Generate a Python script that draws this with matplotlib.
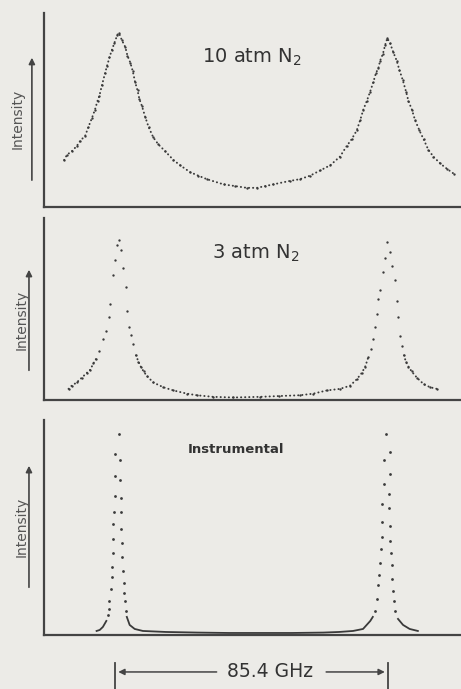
import numpy as np
import matplotlib
matplotlib.use("Agg")
import matplotlib.pyplot as plt

# free spectral range between the two orders (GHz)
fsr_ghz = 85.4

# 10 atm N2 : frequency offset (GHz), relative intensity
freq_10atm = [-17.3, -16.4, -14.9, -13.3, -12.2, -10.6, -9.6, -8.5, -7.5, -6.7, -6.1, -5.3,
              -4.3, -3.7, -2.9, -2.2, -1.4, -0.4, 0.1, 1.0, 2.1, 2.8, 3.7, 4.5, 5.2, 6.0,
              6.6, 7.4, 8.4, 9.5, 11.0, 12.6, 14.8, 17.4, 19.5, 22.7, 25.3, 28.0, 33.3,
              37.0, 40.7, 43.9, 46.5, 49.1, 54.4, 57.6, 60.8, 64.0, 67.2, 70.3, 72.4, 74.0,
              75.6, 76.7, 77.7, 78.8, 79.8, 80.9, 81.7, 82.5, 83.0, 83.9, 84.6, 85.3, 86.2,
              87.2, 88.3, 89.1, 90.2, 91.3, 92.0, 93.1, 94.1, 95.5, 96.8, 98.3, 99.9,
              102.1, 104.2, 106.5]
int_10atm = [0.27, 0.30, 0.32, 0.35, 0.38, 0.41, 0.46, 0.51, 0.56, 0.61, 0.64, 0.70,
             0.77, 0.81, 0.86, 0.90, 0.94, 0.99, 1.00, 0.96, 0.92, 0.87, 0.83, 0.78, 0.72, 0.67,
             0.62, 0.58, 0.52, 0.46, 0.40, 0.36, 0.32, 0.27, 0.24, 0.20, 0.18, 0.16, 0.13,
             0.12, 0.11, 0.11, 0.12, 0.13, 0.15, 0.16, 0.18, 0.21, 0.24, 0.29, 0.35, 0.39,
             0.44, 0.50, 0.56, 0.61, 0.66, 0.72, 0.77, 0.80, 0.84, 0.88, 0.93, 0.97, 0.94,
             0.89, 0.84, 0.79, 0.73, 0.66, 0.61, 0.56, 0.50, 0.44, 0.39, 0.33, 0.29,
             0.25, 0.22, 0.19]

# 3 atm N2
freq_3atm = [-15.9, -14.9, -13.3, -11.7, -10.1, -9.0, -8.0, -7.1, -6.1, -5.1, -4.0, -3.2,
             -2.7, -1.8, -1.1, -0.6, 0.0, 0.7, 1.5, 2.3, 2.8, 3.4, 3.9, 4.7, 5.5, 6.3, 7.0,
             7.9, 9.0, 11.0, 14.2, 17.4, 21.7, 24.8, 30.0, 36.3, 44.9, 51.0, 57.6, 61.8,
             66.1, 70.3, 73.5, 75.6, 77.2, 78.3, 79.3, 80.1, 80.7, 81.4, 82.0, 82.5, 83.0,
             83.9, 84.6, 85.3, 86.2, 86.7, 87.6, 88.3, 88.6, 89.4, 89.9, 90.6, 91.2, 92.0,
             93.0, 94.7, 96.8, 98.9, 101.0]
int_3atm = [0.07, 0.09, 0.11, 0.14, 0.17, 0.19, 0.23, 0.26, 0.31, 0.38, 0.43, 0.52,
            0.60, 0.78, 0.88, 0.97, 1.00, 0.94, 0.83, 0.71, 0.56, 0.46, 0.41, 0.35, 0.28, 0.24, 0.21,
            0.18, 0.15, 0.11, 0.08, 0.06, 0.04, 0.03, 0.02, 0.016, 0.02, 0.025, 0.03, 0.04,
            0.06, 0.07, 0.09, 0.13, 0.17, 0.21, 0.27, 0.32, 0.38, 0.46, 0.54, 0.63, 0.69,
            0.80, 0.89, 0.99, 0.93, 0.84, 0.75, 0.62, 0.52, 0.40, 0.34, 0.28, 0.24, 0.21,
            0.18, 0.14, 0.10, 0.08, 0.07]

# instrumental profile
freq_inst = [-7.0, -6.0, -5.0, -3.9, -3.4, -3.1, -2.9, -2.5, -2.1, -2.1, -1.8, -1.8, -1.8,
             -1.6, -1.3, -1.0, -1.0, 0.1, 0.5, 0.5, 0.9, 0.9, 0.9, 1.0, 1.2, 1.4, 1.6, 1.7,
             1.9, 2.2, 2.6, 3.5, 5.1, 7.7, 15.0, 25.0, 35.0, 45.0, 55.0, 65.0, 70.0,
             74.4, 77.6, 79.9, 80.7, 81.5, 82.0, 82.4, 82.6, 83.1, 83.2, 83.6, 83.7, 83.7,
             84.4, 84.2, 84.8, 86.0, 86.0, 85.8, 85.8, 86.0, 86.3, 86.6, 86.9, 86.9, 87.1,
             87.3, 87.6, 88.7, 90.3, 92.4, 95.0]
int_inst = [0.02, 0.025, 0.04, 0.07, 0.10, 0.13, 0.17, 0.23, 0.29, 0.34, 0.41, 0.48, 0.55,
            0.61, 0.69, 0.79, 0.90, 1.00, 0.87, 0.77, 0.68, 0.61, 0.53, 0.46, 0.39, 0.32, 0.26, 0.21,
            0.17, 0.12, 0.09, 0.05, 0.03, 0.02, 0.015, 0.012, 0.01, 0.01, 0.01, 0.012, 0.015,
            0.02, 0.03, 0.07, 0.09, 0.12, 0.18, 0.25, 0.30, 0.36, 0.43, 0.49, 0.56, 0.65,
            0.75, 0.87, 1.00, 0.91, 0.80, 0.70, 0.63, 0.54, 0.47, 0.41, 0.35, 0.28, 0.22,
            0.17, 0.12, 0.08, 0.05, 0.03, 0.02]

paper = '#ecebe7'
ink = '#3a3a3a'

fig = plt.figure(figsize=(4.61, 6.89), dpi=100, facecolor=paper)

panels = [
    # rect, ylim top, label, label pos, arrow (y0, y1), arrow x, text x
    ([0.0954, 0.6996, 0.9046, 0.2815], 1.115, '10 atm N$_2$', (0.499, 0.773), (0.124, 0.784), -0.029, -0.062),
    ([0.0954, 0.4194, 0.9046, 0.2642], 1.14, '3 atm N$_2$', (0.508, 0.808), (0.148, 0.731), -0.036, -0.053),
    ([0.0954, 0.0784, 0.9046, 0.3120], 1.07, 'Instrumental', (0.46, 0.865), (0.209, 0.80), -0.036, -0.053),
]
data = [(freq_10atm, int_10atm), (freq_3atm, int_3atm), (freq_inst, int_inst)]
# above this level the samples show as separate dots rather than a dense trace
dense_below = [2.0, 0.3, 0.1]

axes = []
for i, (rect, ytop, title, tpos, arr, ax_x, tx_x) in enumerate(panels):
    ax = fig.add_axes(rect)
    ax.set_facecolor(paper)
    f, y = np.array(data[i][0]), np.array(data[i][1])
    lim = dense_below[i]
    if i < 2:
        ax.plot(f, np.ma.masked_where(y >= lim, y), color=ink, lw=1.4,
                linestyle=(0, (0.1, 2.0)), dash_capstyle='round')
        ax.plot(f, y, 'o', color=ink, ms=1.7, mew=0)
    else:
        ax.plot(f, np.ma.masked_where(y >= lim, y), color=ink, lw=1.3)
        ax.plot(f[y >= lim], y[y >= lim], 'o', color=ink, ms=2.0, mew=0)
    ax.set_xlim(-23.7, 108.7)
    ax.set_ylim(0, ytop)
    ax.set_xticks([])
    ax.set_yticks([])
    for s in ['top', 'right']:
        ax.spines[s].set_visible(False)
    for s in ['left', 'bottom']:
        ax.spines[s].set_color('#444444')
        ax.spines[s].set_linewidth(1.6)
    if i < 2:
        ax.text(tpos[0], tpos[1], title, transform=ax.transAxes, ha='center', va='center',
                fontsize=14, color='#333333')
    else:
        ax.text(tpos[0], tpos[1], title, transform=ax.transAxes, ha='center', va='center',
                fontsize=9.5, fontweight='bold', color='#333333')
    # Intensity arrow and label
    ax.annotate('', xy=(ax_x, arr[1]), xytext=(ax_x, arr[0]), xycoords='axes fraction',
                arrowprops=dict(arrowstyle='-|>', color='#444444', lw=1.2,
                                mutation_scale=9), annotation_clip=False)
    ax.text(tx_x, (arr[0] + arr[1]) / 2, 'Intensity', transform=ax.transAxes, rotation=90,
            ha='center', va='center', fontsize=10, color='#555555')
    axes.append(ax)

# spacing ruler below the instrumental trace
ax3 = axes[2]
tr = ax3.get_xaxis_transform()
ruler_y = -0.172
text_x = 48.0
ax3.plot([-1.0, -1.0], [-0.13, -0.26], transform=tr, color='#444444', lw=1.3, clip_on=False)
ax3.plot([fsr_ghz, fsr_ghz], [-0.13, -0.26], transform=tr, color='#444444', lw=1.3, clip_on=False)
ax3.annotate('', xy=(-1.0, ruler_y), xytext=(32.0, ruler_y), xycoords=tr,
             arrowprops=dict(arrowstyle='-|>', color='#444444', lw=1.1, mutation_scale=9),
             annotation_clip=False)
ax3.annotate('', xy=(fsr_ghz, ruler_y), xytext=(65.0, ruler_y), xycoords=tr,
             arrowprops=dict(arrowstyle='-|>', color='#444444', lw=1.1, mutation_scale=9),
             annotation_clip=False)
ax3.text(text_x, ruler_y, f'{fsr_ghz} GHz', transform=tr, ha='center', va='center',
         fontsize=13.5, color='#333333')

fig.savefig('out.png', dpi=100, facecolor=paper)
